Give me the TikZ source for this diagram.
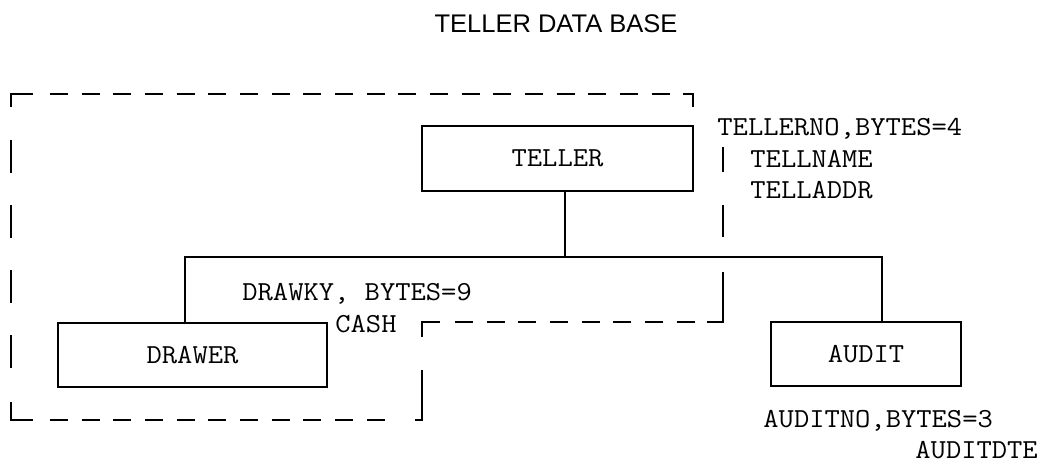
\documentclass[tikz,border=0pt]{standalone}
\usepackage{fontspec}
\newfontfamily\typewriter{Latin Modern Mono}[FakeStretch=1.08]
\newfontfamily\titlefont{Liberation Sans}
\begin{document}
\begin{tikzpicture}[x=0.5pt, y=-0.5pt,
  box/.style={draw, line width=0.9pt, inner sep=0pt, outer sep=0pt,
    font=\typewriter\fontsize{13.75pt}{16pt}\selectfont},
  link/.style={line width=0.9pt},
  field/.style={anchor=base west, inner sep=0pt,
    font=\typewriter\fontsize{13.75pt}{16pt}\selectfont},
  outline/.style={line width=1pt},
  hdash/.style={line width=1pt, dash pattern=on 9pt off 6.835pt},
  vdash/.style={line width=1pt, dash pattern=on 16.25pt off 16.25pt}]
\useasboundingbox (0,0) rectangle (1048,462);

% title
\node[anchor=base, inner sep=0pt, font=\titlefont\fontsize{12.75pt}{15pt}\selectfont]
  (title) at (556,32) {TELLER DATA BASE};

% segments
\node[box, minimum width=135.5pt, minimum height=32.5pt] (teller) at (557.5,158.5) {TELLER};
\node[box, minimum width=134.5pt, minimum height=32pt] (drawer) at (192.5,355) {DRAWER};
\node[box, minimum width=95pt, minimum height=32pt] (audit) at (866,354) {AUDIT};

% hierarchy connectors
\coordinate (bus) at (565,257);
\coordinate (busL) at (185,257);
\coordinate (busR) at (882,257);
\draw[link] (teller.south -| bus) -- (bus);
\draw[link] (drawer.north -| busL) -- (busL) -- (busR) -- (audit.north -| busR);

% field lists
\node[field] (tno) at (717,135) {TELLERNO,BYTES=4};
\node[field] (tname) at (750,167) {TELLNAME};
\node[field] (taddr) at (750,198) {TELLADDR};
\node[field] (dky) at (242,300) {DRAWKY, BYTES=9};
\node[field] (cash) at (335,332) {CASH};
\node[field] (ano) at (763,427) {AUDITNO,BYTES=3};
\node[field] (adte) at (915,458) {AUDITDTE};

% dashed boundary round the TELLER/DRAWER group
\draw[outline] (11,107) -- (11,94) -- (33,94);
\draw[hdash] (50,94) -- (670,94);
\draw[outline] (683,94) -- (693,94) -- (693,107);
\draw[vdash] (11,140) -- (11,368);
\draw[outline] (11,402) -- (11,420) -- (33,420);
\draw[hdash] (50,420) -- (385,420);
\draw[outline] (415,420) -- (422,420) -- (422,370);
\draw[outline] (422,337) -- (422,322) -- (440,322);
\draw[hdash] (455,322) -- (695,322);
\draw[outline] (707,322) -- (723,322) -- (723,272);
\draw[vdash] (723,237) -- (723,147);
\end{tikzpicture}
\end{document}
